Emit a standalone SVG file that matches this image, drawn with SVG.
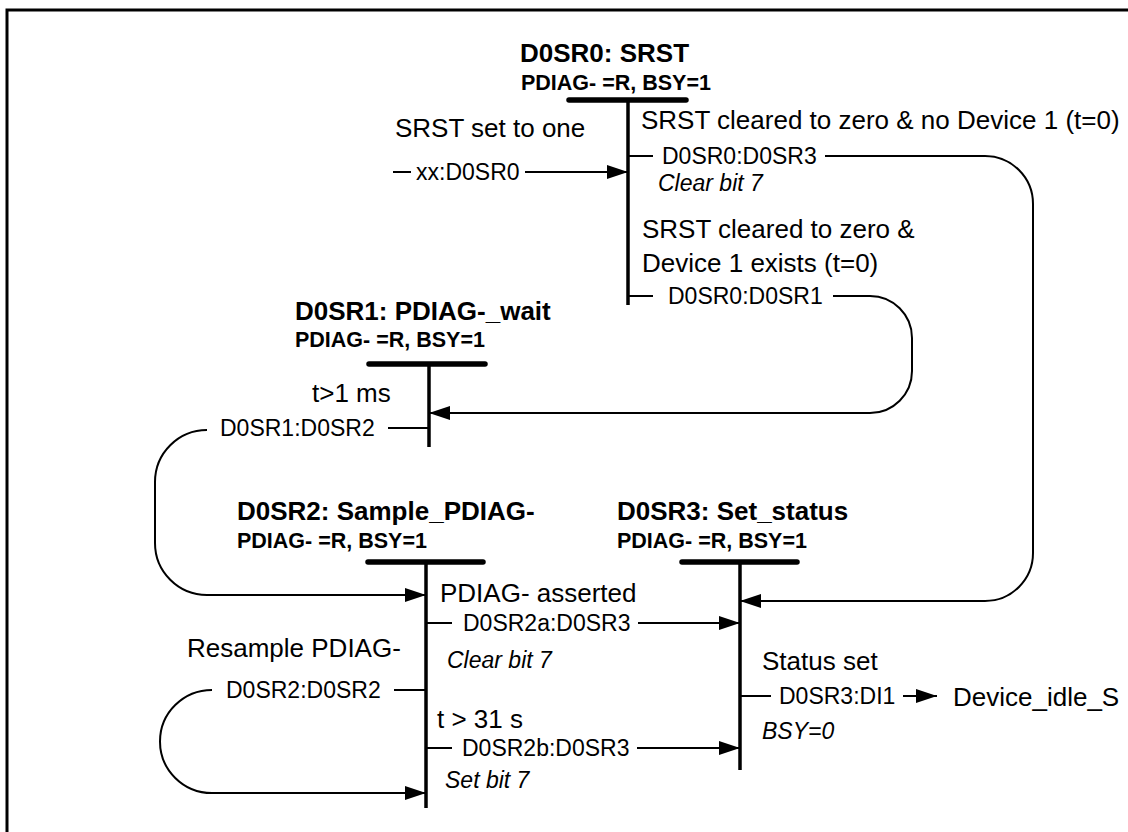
<svg xmlns="http://www.w3.org/2000/svg" width="1128" height="832" viewBox="0 0 1128 832">
<defs>
<marker id="ah" markerUnits="userSpaceOnUse" markerWidth="21" markerHeight="14" refX="21" refY="7" orient="auto">
<path d="M0,0 L21,7 L0,14 z" fill="#000"/>
</marker>
<style>
.t{font-family:"Liberation Sans",Arial,sans-serif;font-weight:bold;font-size:26px;fill:#000}
.s{font-family:"Liberation Sans",Arial,sans-serif;font-weight:bold;font-size:21.5px;fill:#000}
.c{font-family:"Liberation Sans",Arial,sans-serif;font-size:26px;fill:#000}
.l{font-family:"Liberation Sans",Arial,sans-serif;font-size:23px;fill:#000}
.n{font-family:"Liberation Sans",Arial,sans-serif;font-style:italic;font-size:23px;fill:#000}
.bar{stroke:#000;stroke-width:5.5;stroke-linecap:round}
.v{stroke:#000;stroke-width:3.5}
.w{stroke:#000;stroke-width:2;fill:none}
.a{stroke:#000;stroke-width:2;fill:none;marker-end:url(#ah)}
</style>
</defs>
<rect width="1128" height="832" fill="#fff"/>
<path d="M7 832 V10 H1128" fill="none" stroke="#000" stroke-width="3"/>

<g id="D0SR0">
<text class="t" x="520" y="62">D0SR0: SRST</text>
<text class="s" x="521" y="90">PDIAG- =R, BSY=1</text>
<line class="bar" x1="569" y1="100" x2="686" y2="100"/>
<line class="v" x1="628" y1="100" x2="628" y2="305"/>
</g>

<g id="D0SR1">
<text class="t" x="295" y="320">D0SR1: PDIAG-_wait</text>
<text class="s" x="295" y="347">PDIAG- =R, BSY=1</text>
<line class="bar" x1="369" y1="364" x2="485" y2="364"/>
<line class="v" x1="429" y1="364" x2="429" y2="447"/>
</g>

<g id="D0SR2">
<text class="t" x="237" y="520">D0SR2: Sample_PDIAG-</text>
<text class="s" x="237" y="548">PDIAG- =R, BSY=1</text>
<line class="bar" x1="368" y1="562" x2="483" y2="562"/>
<line class="v" x1="426" y1="562" x2="426" y2="808"/>
</g>

<g id="D0SR3">
<text class="t" x="617" y="520">D0SR3: Set_status</text>
<text class="s" x="617" y="548">PDIAG- =R, BSY=1</text>
<line class="bar" x1="682" y1="562" x2="797" y2="562"/>
<line class="v" x1="740" y1="562" x2="740" y2="770"/>
</g>

<g id="connectors">
<!-- entry -->
<text class="c" x="395" y="137">SRST set to one</text>
<line class="w" x1="393" y1="172" x2="411" y2="172"/>
<text class="l" x="416" y="180">xx:D0SR0</text>
<line class="a" x1="525" y1="172" x2="628" y2="172"/>

<!-- D0SR0 -> D0SR3 -->
<text class="c" x="641" y="129">SRST cleared to zero &amp; no Device 1 (t=0)</text>
<line class="w" x1="628" y1="156" x2="653" y2="156"/>
<text class="l" x="662" y="164">D0SR0:D0SR3</text>
<text class="n" x="658" y="191">Clear bit 7</text>
<path class="a" d="M825 156 H985 A48 48 0 0 1 1033 204 V553 A48 48 0 0 1 985 601 H740"/>

<!-- D0SR0 -> D0SR1 -->
<text class="c" x="642" y="238">SRST cleared to zero &amp;</text>
<text class="c" x="642" y="272">Device 1 exists (t=0)</text>
<line class="w" x1="628" y1="296" x2="653" y2="296"/>
<text class="l" x="668" y="304">D0SR0:D0SR1</text>
<path class="a" d="M833 296 H870 A42 42 0 0 1 912 338 V371 A42 42 0 0 1 870 413 H429"/>

<!-- D0SR1 -> D0SR2 -->
<text class="c" x="312" y="402">t&gt;1 ms</text>
<line class="w" x1="388" y1="428" x2="429" y2="428"/>
<text class="l" x="220" y="436">D0SR1:D0SR2</text>
<path class="a" d="M207 430 A52 52 0 0 0 155 482 V543 A52 52 0 0 0 207 595 H426"/>

<!-- D0SR2 -> D0SR3 (a) -->
<text class="c" x="440" y="602">PDIAG- asserted</text>
<line class="w" x1="426" y1="623" x2="452" y2="623"/>
<text class="l" x="463" y="631">D0SR2a:D0SR3</text>
<text class="n" x="447" y="668">Clear bit 7</text>
<line class="a" x1="638" y1="623" x2="740" y2="623"/>

<!-- D0SR2 -> D0SR2 -->
<text class="c" x="187" y="657">Resample PDIAG-</text>
<text class="l" x="226" y="698">D0SR2:D0SR2</text>
<line class="w" x1="394" y1="690" x2="426" y2="690"/>
<path class="a" d="M212 690 A52 51.5 0 0 0 212 793 H426"/>

<!-- D0SR2 -> D0SR3 (b) -->
<text class="c" x="437" y="728">t &gt; 31 s</text>
<line class="w" x1="426" y1="748" x2="452" y2="748"/>
<text class="l" x="462" y="756">D0SR2b:D0SR3</text>
<text class="n" x="445" y="788">Set bit 7</text>
<line class="a" x1="637" y1="748" x2="740" y2="748"/>

<!-- D0SR3 -> DI1 -->
<text class="c" x="762" y="670">Status set</text>
<line class="w" x1="740" y1="696" x2="771" y2="696"/>
<text class="l" x="779" y="704">D0SR3:DI1</text>
<line class="a" x1="903" y1="696" x2="937" y2="696"/>
<text class="c" x="953" y="706">Device_idle_S</text>
<text class="n" x="762" y="739">BSY=0</text>
</g>
</svg>
